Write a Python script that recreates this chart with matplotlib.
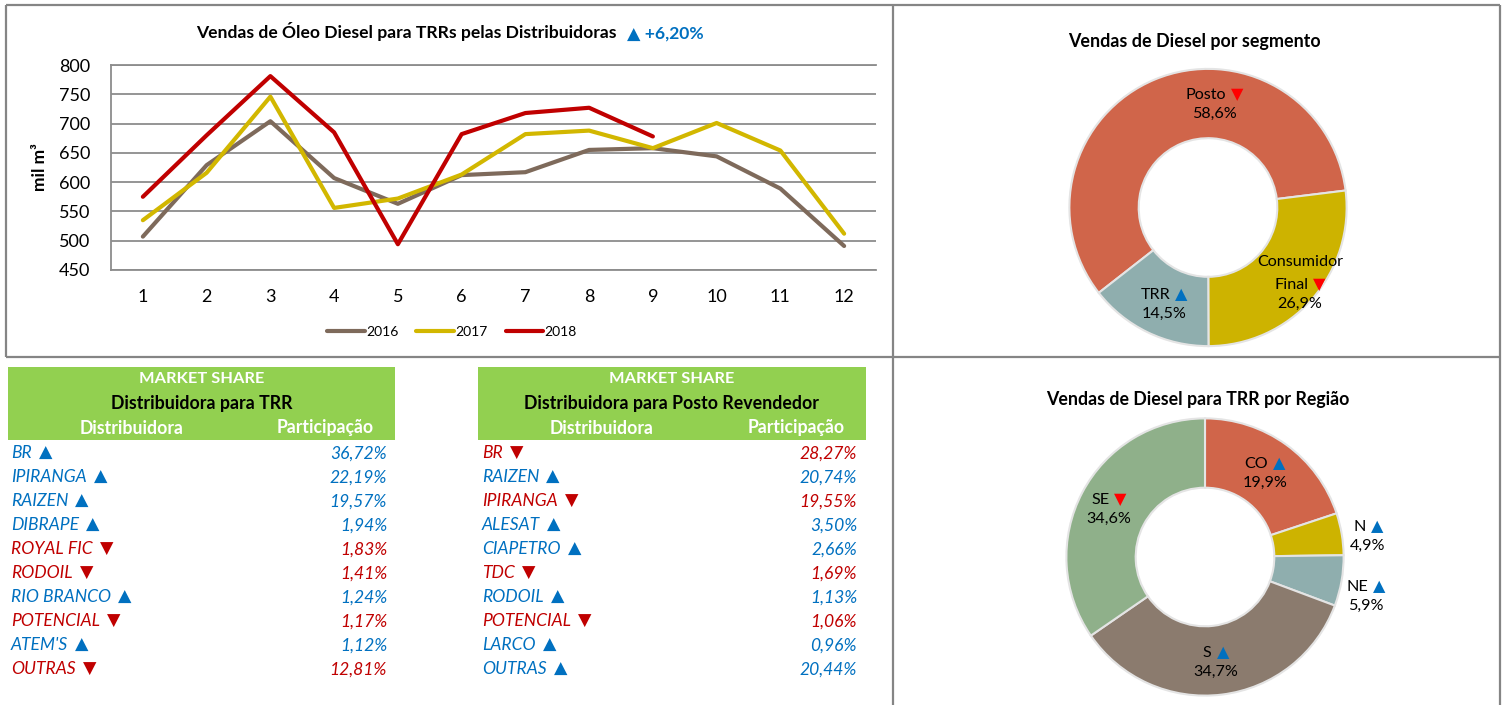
import matplotlib
matplotlib.use('Agg')
import matplotlib.pyplot as plt
from matplotlib.patches import Rectangle

plt.rcParams['font.family'] = ['Lato', 'DejaVu Sans']

# ---------------- data ----------------
months = list(range(1, 13))
sales_2016 = [507, 629, 704, 607, 563, 612, 617, 655, 658, 644, 589, 491]
sales_2017 = [535, 616, 746, 556, 572, 613, 682, 688, 658, 701, 654, 512]
sales_2018 = [575, 680, 781, 685, 494, 682, 718, 727, 678]
series_years = ['2016', '2017', '2018']
line_title = 'Vendas de Óleo Diesel para TRRs pelas Distribuidoras'
line_change = '▲ +6,20%'

seg_title = 'Vendas de Diesel por segmento'
seg_labels = ['Posto', 'Consumidor\nFinal', 'TRR']
seg_values = [58.6, 26.9, 14.5]
seg_up = [False, False, True]

reg_title = 'Vendas de Diesel para TRR por Região'
reg_labels = ['CO', 'N', 'NE', 'S', 'SE']
reg_values = [19.9, 4.9, 5.9, 34.7, 34.6]
reg_up = [True, True, True, True, False]

trr_subtitle = 'Distribuidora para TRR'
trr_names = ['BR', 'IPIRANGA', 'RAIZEN', 'DIBRAPE', 'ROYAL FIC', 'RODOIL',
             'RIO BRANCO', 'POTENCIAL', "ATEM'S", 'OUTRAS']
trr_shares = ['36,72%', '22,19%', '19,57%', '1,94%', '1,83%', '1,41%',
              '1,24%', '1,17%', '1,12%', '12,81%']
trr_up = [True, True, True, True, False, False, True, False, True, False]

posto_subtitle = 'Distribuidora para Posto Revendedor'
posto_names = ['BR', 'RAIZEN', 'IPIRANGA', 'ALESAT', 'CIAPETRO', 'TDC',
               'RODOIL', 'POTENCIAL', 'LARCO', 'OUTRAS']
posto_shares = ['28,27%', '20,74%', '19,55%', '3,50%', '2,66%', '1,69%',
                '1,13%', '1,06%', '0,96%', '20,44%']
posto_up = [False, True, False, True, True, False, True, False, True, True]

# ---------------- style ----------------
W, H = 1506, 705
BLUE = '#0070C0'
DRED = '#C00000'
BRED = '#FF0000'
GREEN = '#92D050'
GRID = '#8C8C8C'
BORDER = '#858585'
line_colors = ['#7E6A5B', '#D2B700', '#C00000']
seg_colors = ['#D0654A', '#CDB300', '#8FAEAE']
reg_colors = ['#D0654A', '#CDB300', '#8FAEAE', '#8B7B6E', '#8FB08A']

fig = plt.figure(figsize=(W / 100, H / 100), dpi=100)
fig.patch.set_facecolor('white')


def px_axes(x0, y0, x1, y1):
    return fig.add_axes([x0 / W, 1 - y1 / H, (x1 - x0) / W, (y1 - y0) / H])


# ---------------- line chart ----------------
ax = px_axes(111, 65, 876, 270)
for vals, yr, c in zip([sales_2016, sales_2017, sales_2018], series_years, line_colors):
    ax.plot(months[:len(vals)], vals, color=c, lw=3.0, label=yr,
            solid_capstyle='round', solid_joinstyle='round', zorder=3)
ax.set_xlim(0.5, 12.5)
ax.set_ylim(450, 800)
ax.set_yticks(range(450, 801, 50))
ax.set_xticks(months)
ax.grid(axis='y', color=GRID, lw=1.3)
ax.set_axisbelow(True)
for s in ['top', 'bottom', 'left']:
    ax.spines[s].set_color(GRID)
    ax.spines[s].set_linewidth(1.3)
ax.spines['right'].set_visible(False)
ax.tick_params(axis='both', length=0, labelsize=13, colors='black')
ax.tick_params(axis='y', pad=15)
ax.tick_params(axis='x', pad=14)
ax.set_ylabel('mil m³', fontsize=12.5, fontweight='bold', labelpad=8)
ax.legend(loc='center', bbox_to_anchor=(452 / W, 1 - 332 / H),
          bbox_transform=fig.transFigure, ncol=3, frameon=False,
          handlelength=2.7, handletextpad=0.1, columnspacing=1.3, fontsize=10)

# ---------------- donuts ----------------
ring = dict(width=0.5, edgecolor='#E4E4E4', linewidth=1.5)
ax1 = px_axes(1068, 67.5, 1348, 347.5)
ax1.pie(seg_values, colors=seg_colors, startangle=218, counterclock=False,
        radius=1, wedgeprops=ring)
ax1.set_xlim(-1.01, 1.01)
ax1.set_ylim(-1.01, 1.01)

ax2 = px_axes(1065, 417, 1345, 697)
ax2.pie(reg_values, colors=reg_colors, startangle=90, counterclock=False,
        radius=1, wedgeprops=ring)
ax2.set_xlim(-1.01, 1.01)
ax2.set_ylim(-1.01, 1.01)

# ---------------- overlay (borders, tables, labels) ----------------
ov = fig.add_axes([0, 0, 1, 1], zorder=10)
ov.set_xlim(0, W)
ov.set_ylim(H, 0)
ov.axis('off')
ov.patch.set_alpha(0)

bl = dict(color=BORDER, lw=1.6, clip_on=False, solid_capstyle='butt')
ov.plot([6, 1500], [5, 5], **bl)
ov.plot([6, 6], [5, 357], **bl)
ov.plot([893, 893], [5, 705], **bl)
ov.plot([6, 1500], [357, 357], **bl)
ov.plot([1500, 1500], [5, 705], **bl)

renderer = fig.canvas.get_renderer()


def rich(x, y, pieces, fs, ha='center', gap=5):
    """pieces: list of (text, color, weight, style); y is text centre."""
    texts = []
    for s, c, w, st in pieces:
        t = ov.text(0, y, s, fontsize=fs, color=c, fontweight=w, fontstyle=st,
                    va='baseline', ha='left')
        texts.append(t)
    widths = [t.get_window_extent(renderer).width for t in texts]
    total = sum(widths) + gap * (len(texts) - 1)
    if ha == 'center':
        start = x - total / 2
    elif ha == 'right':
        start = x - total
    else:
        start = x
    base = y + fs * 1.389 * 0.36
    for t, w in zip(texts, widths):
        t.set_x(start)
        t.set_y(base)
        start += w + gap
    return texts


def arrow(up):
    return '▲' if up else '▼'


# titles
rich(450, 32, [(line_title, 'black', 'bold', 'normal'),
               (line_change, BLUE, 'bold', 'normal')], 12.6, gap=10)
ov.text(1194, 42, seg_title, fontsize=12.9, fontweight='bold', ha='center', va='center')
ov.text(1198, 400, reg_title, fontsize=12.8, fontweight='bold', ha='center', va='center')

# donut labels (pixel positions of label centres)
LFS = 11.6
seg_pos = [(1214, 93), (1300, 262), (1164, 293)]
for lab, val, up, (x, y) in zip(seg_labels, seg_values, seg_up, seg_pos):
    lines = lab.split('\n')
    for i, ln in enumerate(lines):
        if i == len(lines) - 1:
            rich(x, y + 21 * i, [(ln, 'black', 'normal', 'normal'),
                                 (arrow(up), BLUE if up else BRED, 'normal', 'normal')], LFS)
        else:
            ov.text(x, y + 21 * i, ln, fontsize=LFS, ha='center', va='center')
    ov.text(x, y + 21 * len(lines), f'{val:.1f}%'.replace('.', ','), fontsize=LFS,
            ha='center', va='center')

reg_pos = [(1265, 462), (1368, 525), (1366, 585), (1216, 651), (1109, 498)]
for lab, val, up, (x, y) in zip(reg_labels, reg_values, reg_up, reg_pos):
    rich(x, y, [(lab, 'black', 'normal', 'normal'),
                (arrow(up), BLUE if up else BRED, 'normal', 'normal')], LFS)
    ov.text(x, y + 21, f'{val:.1f}%'.replace('.', ','), fontsize=LFS,
            ha='center', va='center')


# tables
def table(x0, x1, subtitle, names, shares, ups, col1_cx, col2_cx, name_x, val_x):
    ov.add_patch(Rectangle((x0, 367), x1 - x0, 73, color=GREEN, lw=0, zorder=1))
    cx = (x0 + x1) / 2
    ov.text(cx, 379, 'MARKET SHARE', color='white', fontsize=11.8, fontweight='bold',
            ha='center', va='center', zorder=2)
    ov.text(cx, 403, subtitle, color='black', fontsize=12.8, fontweight='bold',
            ha='center', va='center', zorder=2)
    ov.text(col1_cx, 428, 'Distribuidora', color='white', fontsize=12.7,
            fontweight='bold', ha='center', va='center', zorder=2)
    ov.text(col2_cx, 428, 'Participação', color='white', fontsize=12.7,
            fontweight='bold', ha='center', va='center', zorder=2)
    for i, (n, s, up) in enumerate(zip(names, shares, ups)):
        y = 452 + 24 * i
        col = BLUE if up else DRED
        rich(name_x, y, [(n, col, 'normal', 'italic'),
                         (arrow(up), col, 'normal', 'normal')], 12.6, ha='left', gap=7)
        rich(val_x, y, [(s, col, 'normal', 'italic')], 12.6, ha='right')


table(8, 395, trr_subtitle, trr_names, trr_shares, trr_up, 132, 325, 11, 387)
table(478, 866, posto_subtitle, posto_names, posto_shares, posto_up, 602, 796, 482, 857)

fig.savefig('out.png', dpi=100, facecolor='white')
